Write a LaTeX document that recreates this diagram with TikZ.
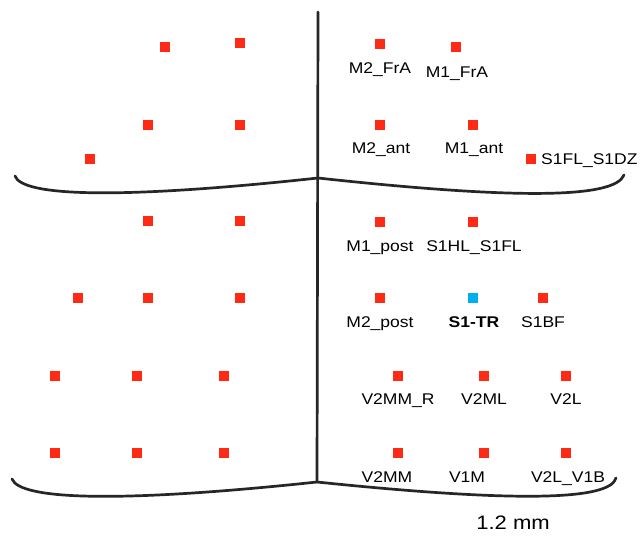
\documentclass[tikz,border=0pt]{standalone}
\usepackage{fontspec}
\setmainfont{Liberation Sans}
\definecolor{sitered}{RGB}{255,42,22}
\definecolor{siteblue}{RGB}{0,176,236}
\definecolor{outline}{RGB}{38,38,38}
% labels are set slightly wide
\newcommand\widetext[1]{\scalebox{1.13}[1]{#1}}
\begin{document}
\begin{tikzpicture}[x=1pt,y=-1pt,
  site/.style={fill=sitered,draw=none,minimum size=10pt,inner sep=0pt,outer sep=0pt},
  tsite/.style={site,fill=siteblue},
  lbl/.style={anchor=base,inner sep=0pt,font=\fontsize{15.5}{18}\selectfont},
  edge/.style={draw=outline,line width=2.7pt,line cap=round,line join=round}]
\useasboundingbox (0,0) rectangle (642,536);
\fill[white] (0,0) rectangle (642,536);

% midline and the two outlines
\coordinate (mtop) at (318,12);
\coordinate (mmid) at (318,178);
\coordinate (mbot) at (317,482);
\coordinate (tl) at (15,176);
\coordinate (tr) at (624,175);
\coordinate (bl) at (12,479);
\coordinate (br) at (616,478);
\draw[edge] (mtop) -- (mbot);
\draw[edge] (tl) .. controls (22,196) and (115,200) .. (mmid);
\draw[edge] (mmid) .. controls (520,200) and (615,198) .. (tr);
\draw[edge] (bl) .. controls (20,500) and (120,503) .. (mbot);
\draw[edge] (mbot) .. controls (520,503) and (610,500) .. (br);

% left hemisphere sites
\node[site] (l11) at (165,47) {};
\node[site] (l12) at (240,43) {};
\node[site] (l21) at (148,125) {};
\node[site] (l22) at (240,125) {};
\node[site] (l23) at (90,159) {};
\node[site] (l31) at (148,221) {};
\node[site] (l32) at (240,221) {};
\node[site] (l41) at (78,298) {};
\node[site] (l42) at (148,298) {};
\node[site] (l43) at (240,298) {};
\node[site] (l51) at (55,376) {};
\node[site] (l52) at (137,376) {};
\node[site] (l53) at (224,376) {};
\node[site] (l61) at (55,453) {};
\node[site] (l62) at (137,453) {};
\node[site] (l63) at (224,453) {};

% right hemisphere sites with their labels
\node[site] (m2fra) at (380,44) {};
\node[lbl] (m2fraL) at (380,73.5) {\widetext{M2\_FrA}};
\node[site] (m1fra) at (456,47) {};
\node[lbl] (m1fraL) at (457,77.5) {\widetext{M1\_FrA}};

\node[site] (m2ant) at (380,125) {};
\node[lbl] (m2antL) at (381,153.5) {\widetext{M2\_ant}};
\node[site] (m1ant) at (473,125) {};
\node[lbl] (m1antL) at (474,153.5) {\widetext{M1\_ant}};
\node[site] (s1fl) at (531,159) {};
\node[lbl,anchor=base west] (s1flL) at (541,164.5) {\widetext{S1FL\_S1DZ}};

\node[site] (m1post) at (380,222) {};
\node[lbl] (m1postL) at (380,251.5) {\widetext{M1\_post}};
\node[site] (s1hl) at (473,222) {};
\node[lbl] (s1hlL) at (474,251.5) {\widetext{S1HL\_S1FL}};

\node[site] (m2post) at (380,298) {};
\node[lbl] (m2postL) at (380,327.5) {\widetext{M2\_post}};
\node[tsite] (s1tr) at (473,298) {};
\node[lbl,font=\fontsize{15.5}{18}\selectfont\bfseries] (s1trL) at (474,327.5) {\widetext{S1-TR}};
\node[site] (s1bf) at (543,298) {};
\node[lbl] (s1bfL) at (543,327.5) {\widetext{S1BF}};

\node[site] (v2mmr) at (398,376) {};
\node[lbl] (v2mmrL) at (398,404.5) {\widetext{V2MM\_R}};
\node[site] (v2ml) at (484,376) {};
\node[lbl] (v2mlL) at (484,404.5) {\widetext{V2ML}};
\node[site] (v2l) at (566,376) {};
\node[lbl] (v2lL) at (566,404.5) {\widetext{V2L}};

\node[site] (v2mm) at (398,453) {};
\node[lbl] (v2mmL) at (387,482.5) {\widetext{V2MM}};
\node[site] (v1m) at (484,453) {};
\node[lbl] (v1mL) at (467,482.5) {\widetext{V1M}};
\node[site] (v2lv1b) at (566,453) {};
\node[lbl] (v2lv1bL) at (568,482.5) {\widetext{V2L\_V1B}};

% scale note
\node[lbl,font=\fontsize{19.5}{22}\selectfont] (scale) at (513,529) {\widetext{1.2 mm}};
\end{tikzpicture}
\end{document}
